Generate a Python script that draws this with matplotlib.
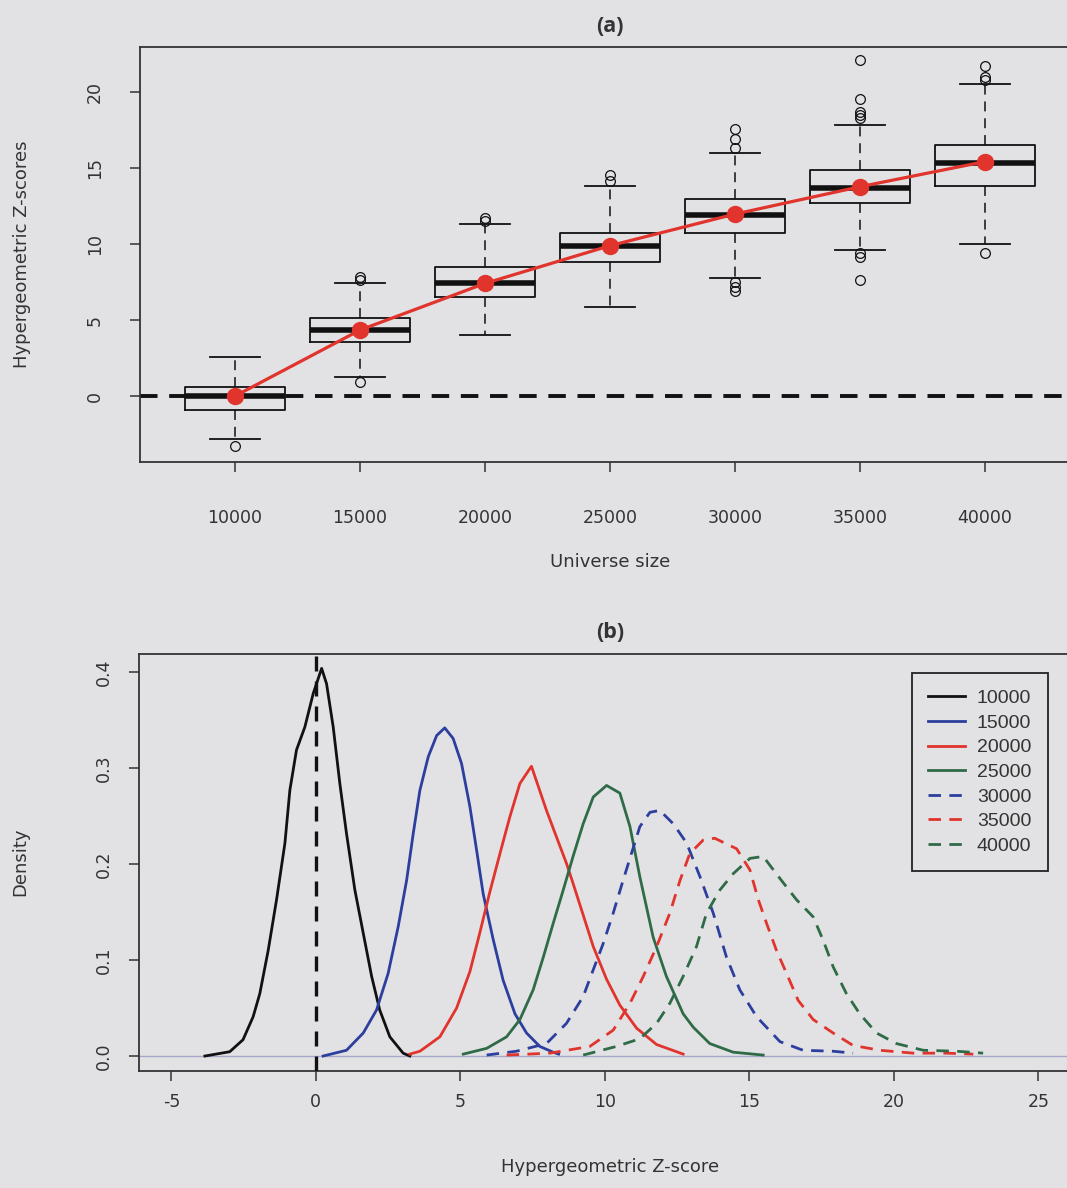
import numpy as np
import matplotlib.pyplot as plt

plt.rcParams['axes.unicode_minus'] = False

# universe sizes used in both panels
universe = [10000, 15000, 20000, 25000, 30000, 35000, 40000]
labels = [str(u) for u in universe]

# boxplot summaries of the hypergeometric Z-scores per universe size
z_q1 = [-0.92, 3.53, 6.53, 8.84, 10.75, 12.67, 13.82]
z_med = [0.0, 4.34, 7.41, 9.89, 11.91, 13.71, 15.35]
z_q3 = [0.61, 5.15, 8.46, 10.75, 12.94, 14.87, 16.51]
z_lo = [-2.83, 1.27, 3.99, 5.88, 7.78, 9.61, 9.98]
z_hi = [2.54, 7.41, 11.3, 13.84, 16.01, 17.81, 20.5]
z_out = [
    [-3.29],
    [7.6, 7.85, 0.94],
    [11.5, 11.7],
    [14.17, 14.54],
    [16.29, 16.91, 17.54, 7.52, 7.19, 6.93],
    [18.27, 18.49, 18.7, 19.54, 22.1, 9.39, 9.17, 7.63],
    [20.79, 21.0, 21.73, 9.43],
]
z_mean = [0.0, 4.34, 7.41, 9.89, 11.97, 13.77, 15.42]

# density curves of the Z-scores (x, density)
d10_x = [-3.84, -2.98, -2.52, -2.17, -1.94, -1.65, -1.36, -1.07, -0.90, -0.67, -0.38, -0.09,
         0.20, 0.37, 0.60, 0.83, 1.06, 1.35, 1.64, 1.93, 2.21, 2.56, 3.02, 3.25]
d10_y = [0.0, 0.0045, 0.017, 0.041, 0.065, 0.110, 0.163, 0.222, 0.277, 0.319, 0.343, 0.378,
         0.404, 0.388, 0.343, 0.284, 0.232, 0.173, 0.128, 0.083, 0.048, 0.020, 0.003, 0.0]
d15_x = [0.25, 1.06, 1.64, 2.10, 2.50, 2.85, 3.14, 3.37, 3.60, 3.89, 4.18, 4.46,
         4.75, 5.04, 5.33, 5.56, 5.79, 6.14, 6.48, 6.89, 7.29, 7.75, 8.21, 8.40]
d15_y = [0.0, 0.006, 0.024, 0.048, 0.086, 0.135, 0.183, 0.232, 0.277, 0.312, 0.334, 0.342,
         0.331, 0.305, 0.260, 0.215, 0.169, 0.121, 0.079, 0.044, 0.024, 0.010, 0.004, 0.002]
d20_x = [3.25, 3.60, 4.29, 4.87, 5.33, 5.67, 6.02, 6.37, 6.71, 7.06, 7.46, 7.98,
         8.33, 8.67, 8.90, 9.25, 9.60, 10.06, 10.52, 11.10, 11.79, 12.71]
d20_y = [0.002, 0.005, 0.020, 0.050, 0.088, 0.128, 0.171, 0.211, 0.249, 0.284, 0.302, 0.256,
         0.228, 0.201, 0.180, 0.147, 0.114, 0.080, 0.053, 0.029, 0.012, 0.002]
d25_x = [5.10, 5.91, 6.60, 7.06, 7.52, 7.87, 8.21, 8.56, 8.90, 9.25, 9.60, 10.06,
         10.52, 10.87, 11.21, 11.67, 12.13, 12.71, 13.06, 13.63, 14.44, 15.48]
d25_y = [0.002, 0.008, 0.020, 0.038, 0.069, 0.103, 0.138, 0.173, 0.208, 0.242, 0.270, 0.282,
         0.274, 0.239, 0.187, 0.124, 0.083, 0.044, 0.030, 0.013, 0.004, 0.001]
d30_x = [5.91, 6.94, 7.98, 8.67, 9.25, 9.60, 9.94, 10.29, 10.63, 10.92, 11.21, 11.56,
         11.90, 12.37, 12.83, 13.29, 13.75, 14.21, 14.67, 15.25, 16.06, 16.86, 17.90, 18.59]
d30_y = [0.001, 0.005, 0.013, 0.034, 0.062, 0.090, 0.117, 0.149, 0.183, 0.211, 0.239, 0.254,
         0.256, 0.242, 0.222, 0.187, 0.149, 0.103, 0.069, 0.041, 0.015, 0.006, 0.005, 0.003]
d35_x = [6.60, 8.10, 9.48, 10.29, 10.87, 11.33, 11.79, 12.25, 12.60, 12.94, 13.40, 13.80,
         14.56, 15.02, 15.31, 15.60, 15.94, 16.29, 16.69, 17.21, 17.90, 18.59, 19.52, 20.67,
         21.82, 22.75]
d35_y = [0.001, 0.003, 0.010, 0.027, 0.055, 0.083, 0.114, 0.149, 0.183, 0.211, 0.225, 0.227,
         0.216, 0.194, 0.163, 0.138, 0.110, 0.086, 0.058, 0.038, 0.024, 0.011, 0.006, 0.003,
         0.003, 0.002]
d40_x = [9.25, 10.40, 11.21, 11.79, 12.25, 12.71, 13.17, 13.52, 13.98, 14.44, 15.02, 15.48,
         16.06, 16.63, 17.21, 17.55, 17.90, 18.36, 18.82, 19.40, 20.09, 21.02, 22.17, 23.09]
d40_y = [0.001, 0.010, 0.018, 0.034, 0.055, 0.083, 0.114, 0.149, 0.173, 0.190, 0.206, 0.208,
         0.185, 0.163, 0.145, 0.121, 0.093, 0.065, 0.044, 0.024, 0.013, 0.006, 0.005, 0.003]

curves_x = [d10_x, d15_x, d20_x, d25_x, d30_x, d35_x, d40_x]
curves_y = [d10_y, d15_y, d20_y, d25_y, d30_y, d35_y, d40_y]

BG = '#e2e2e4'
INK = '#333333'
BLUE = '#2c3f9e'
RED = '#e0342d'
GREEN = '#2f6b47'
curve_colors = ['#111111', BLUE, RED, GREEN, BLUE, RED, GREEN]
dash = (0, (4.5, 3))
curve_styles = ['-', '-', '-', '-', dash, dash, dash]

W, H = 1067, 1188
fig = plt.figure(figsize=(W / 100, H / 100), dpi=100, facecolor=BG)


def px_axes(left, top, right, bottom):
    return fig.add_axes([left / W, 1 - bottom / H, (right - left) / W, (bottom - top) / H])


def style_axes(ax):
    ax.set_facecolor(BG)
    for s in ax.spines.values():
        s.set_color(INK)
        s.set_linewidth(1.3)
    ax.tick_params(colors=INK, length=7, width=1.1, labelsize=12.5, labelcolor=INK)


# ---- (a) boxplots of Z-scores ----
ax1 = px_axes(140, 47, 1080, 462)
style_axes(ax1)
stats = []
for i in range(len(universe)):
    stats.append(dict(med=z_med[i], q1=z_q1[i], q3=z_q3[i], whislo=z_lo[i],
                      whishi=z_hi[i], fliers=z_out[i], label=labels[i]))
ax1.bxp(stats, positions=universe, widths=4000, capwidths=2000, manage_ticks=False,
        boxprops=dict(color='#111111', linewidth=1.3),
        medianprops=dict(color='#111111', linewidth=4.0, solid_capstyle='butt'),
        whiskerprops=dict(color='#111111', linewidth=1.1, linestyle=(0, (6.5, 4.5))),
        capprops=dict(color='#111111', linewidth=1.3),
        flierprops=dict(marker='o', markersize=7, markerfacecolor='none',
                        markeredgecolor='#111111', markeredgewidth=0.9))
ax1.axhline(0, color='#111111', linewidth=2.8, linestyle=(0, (4.5, 3)), zorder=1)
ax1.plot(universe, z_mean, color=RED, linewidth=2.3, marker='o', markersize=11.5,
         markeredgecolor=RED, zorder=5)
ax1.set_xlim(6200, 43800)
ax1.set_ylim(-4.34, 22.96)
ax1.set_xticks(universe)
ax1.set_xticklabels(labels)
ax1.set_yticks([0, 5, 10, 15, 20])
ax1.tick_params(axis='x', pad=27)
ax1.tick_params(axis='y', pad=19)
for t in ax1.get_yticklabels():
    t.set_rotation(90)
    t.set_va('center')
fig.text(610 / W, 1 - 27 / H, '(a)', ha='center', va='center', fontsize=15.5,
         fontweight='bold', family='Open Sans', color=INK)
fig.text(610 / W, 1 - 562 / H, 'Universe size', ha='center', va='center', fontsize=13,
         color=INK)
fig.text(22 / W, 1 - 254 / H, 'Hypergeometric Z-scores', ha='center', va='center',
         rotation=90, fontsize=13, color=INK)

# ---- (b) density of Z-scores ----
ax2 = px_axes(139, 654, 1073, 1071)
style_axes(ax2)
ax2.axhline(0, color='#a6a6c8', linewidth=1.0, zorder=1)
ax2.axvline(0, color='#111111', linewidth=2.4, linestyle=(0, (4.5, 3)), zorder=4)
for xs, ys, c, ls, lab in zip(curves_x, curves_y, curve_colors, curve_styles, labels):
    ax2.plot(xs, ys, color=c, linestyle=ls, linewidth=2.0, label=lab, zorder=3)
ax2.set_xlim(-6.12, 26.2)
ax2.set_ylim(-0.0156, 0.419)
ax2.set_xticks([-5, 0, 5, 10, 15, 20, 25])
ax2.set_yticks([0.0, 0.1, 0.2, 0.3, 0.4])
ax2.set_yticklabels(['0.0', '0.1', '0.2', '0.3', '0.4'])
ax2.tick_params(axis='x', pad=9)
ax2.tick_params(axis='y', pad=12)
for t in ax2.get_yticklabels():
    t.set_rotation(90)
    t.set_va('center')
leg = ax2.legend(loc='upper right', bbox_to_anchor=(1048 / W, 1 - 673 / H),
                 bbox_transform=fig.transFigure, borderaxespad=0, fancybox=False,
                 framealpha=1, facecolor=BG, edgecolor='#222222', handlelength=1.9,
                 handletextpad=0.6, labelspacing=0.36, borderpad=0.85,
                 prop=dict(family='Liberation Sans', size=14))
leg.get_frame().set_linewidth(1.3)
for t in leg.get_texts():
    t.set_color(INK)
fig.text(610 / W, 1 - 633 / H, '(b)', ha='center', va='center', fontsize=15.5,
         fontweight='bold', family='Open Sans', color=INK)
fig.text(610 / W, 1 - 1167 / H, 'Hypergeometric Z-score', ha='center', va='center',
         fontsize=13, color=INK)
fig.text(20 / W, 1 - 862 / H, 'Density', ha='center', va='center', rotation=90,
         fontsize=13, color=INK)

fig.savefig('out.png', dpi=100, facecolor=BG)
